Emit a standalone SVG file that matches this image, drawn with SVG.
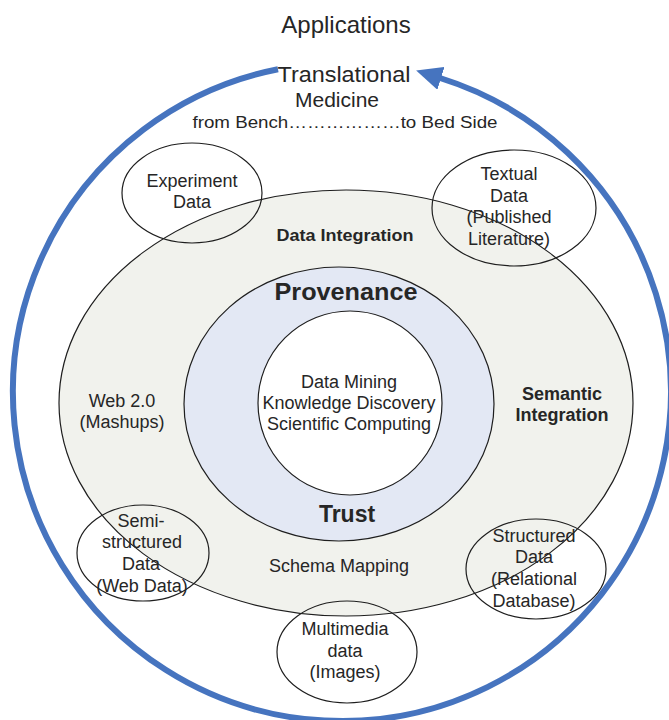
<svg xmlns="http://www.w3.org/2000/svg" width="669" height="720" viewBox="0 0 669 720">
  <style>
    text { font-family: "Liberation Sans", Arial, sans-serif; fill: #262626; text-anchor: middle; }
    .lbl { font-size: 18px; }
    .bold { font-weight: bold; }
    .ring { stroke: #1e1e1e; stroke-width: 1.2; }
    .src { fill: none; stroke: #1e1e1e; stroke-width: 1.2; }
    .cycle { fill: none; stroke: #4674bf; stroke-width: 6; }
  </style>
  <defs>
    <marker id="arrowhead" markerUnits="userSpaceOnUse" markerWidth="26" markerHeight="24" viewBox="0 0 26 24" refX="1" refY="12" orient="auto">
      <path d="M0,0 L26,12 L0,24 z" fill="#4674bf"/>
    </marker>
  </defs>

  <rect x="0" y="0" width="669" height="720" fill="#ffffff"/>

  <!-- outer integration layer -->
  <g id="data-integration">
    <ellipse class="ring" cx="346" cy="403" rx="287" ry="213" fill="#f1f2ed"/>
    <text class="bold" x="345" y="241" font-size="17" textLength="137" lengthAdjust="spacingAndGlyphs">Data Integration</text>
  </g>

  <!-- provenance / trust layer -->
  <g id="provenance-trust">
    <ellipse class="ring" cx="339" cy="404" rx="155" ry="137" fill="#e3e8f4"/>
    <text class="bold" x="346" y="300" font-size="23" textLength="143" lengthAdjust="spacingAndGlyphs">Provenance</text>
    <text class="bold" x="347" y="522" font-size="23">Trust</text>
  </g>

  <!-- core -->
  <g id="core">
    <circle class="ring" cx="350" cy="403" r="92" fill="#ffffff"/>
    <text class="lbl" x="349" y="388">Data Mining</text>
    <text class="lbl" x="349" y="409">Knowledge Discovery</text>
    <text class="lbl" x="349" y="430">Scientific Computing</text>
  </g>

  <g id="web20">
    <text class="lbl" x="122" y="407">Web 2.0</text>
    <text class="lbl" x="122" y="428">(Mashups)</text>
  </g>

  <g id="semantic-integration">
    <text class="lbl bold" x="562" y="400">Semantic</text>
    <text class="lbl bold" x="562" y="421">Integration</text>
  </g>

  <g id="schema-mapping">
    <text class="lbl" x="339" y="572">Schema Mapping</text>
  </g>

  <!-- data sources -->
  <g id="experiment-data">
    <ellipse class="src" cx="192" cy="193" rx="70" ry="50"/>
    <text class="lbl" x="192" y="187">Experiment</text>
    <text class="lbl" x="192" y="208">Data</text>
  </g>

  <g id="textual-data">
    <ellipse class="src" cx="514" cy="208" rx="82" ry="58"/>
    <text class="lbl" x="509" y="180">Textual</text>
    <text class="lbl" x="509" y="202">Data</text>
    <text class="lbl" x="509" y="223">(Published</text>
    <text class="lbl" x="509" y="245">Literature)</text>
  </g>

  <g id="semi-structured-data">
    <ellipse class="src" cx="143" cy="553" rx="66" ry="48"/>
    <text class="lbl" x="141" y="527">Semi-</text>
    <text class="lbl" x="142" y="548">structured</text>
    <text class="lbl" x="141" y="570">Data</text>
    <text class="lbl" x="142" y="592">(Web Data)</text>
  </g>

  <g id="structured-data">
    <ellipse class="src" cx="536" cy="569" rx="70" ry="50"/>
    <text class="lbl" x="534" y="542">Structured</text>
    <text class="lbl" x="534" y="563">Data</text>
    <text class="lbl" x="534" y="585">(Relational</text>
    <text class="lbl" x="534" y="607">Database)</text>
  </g>

  <g id="multimedia-data">
    <ellipse class="src" cx="347" cy="652" rx="70" ry="51"/>
    <text class="lbl" x="345" y="635">Multimedia</text>
    <text class="lbl" x="345" y="657">data</text>
    <text class="lbl" x="345" y="678">(Images)</text>
  </g>

  <!-- applications cycle -->
  <g id="connectors">
    <path class="cycle" d="M278,69.3 A329,329 0 1 0 440,78" marker-end="url(#arrowhead)"/>
  </g>

  <g id="applications">
    <text x="346" y="33" font-size="24">Applications</text>
    <text x="344" y="82" font-size="22" textLength="133" lengthAdjust="spacingAndGlyphs">Translational</text>
    <text x="337" y="107" font-size="21">Medicine</text>
    <text x="345" y="128" font-size="16" textLength="305" lengthAdjust="spacingAndGlyphs">from Bench………………to Bed Side</text>
  </g>
</svg>
